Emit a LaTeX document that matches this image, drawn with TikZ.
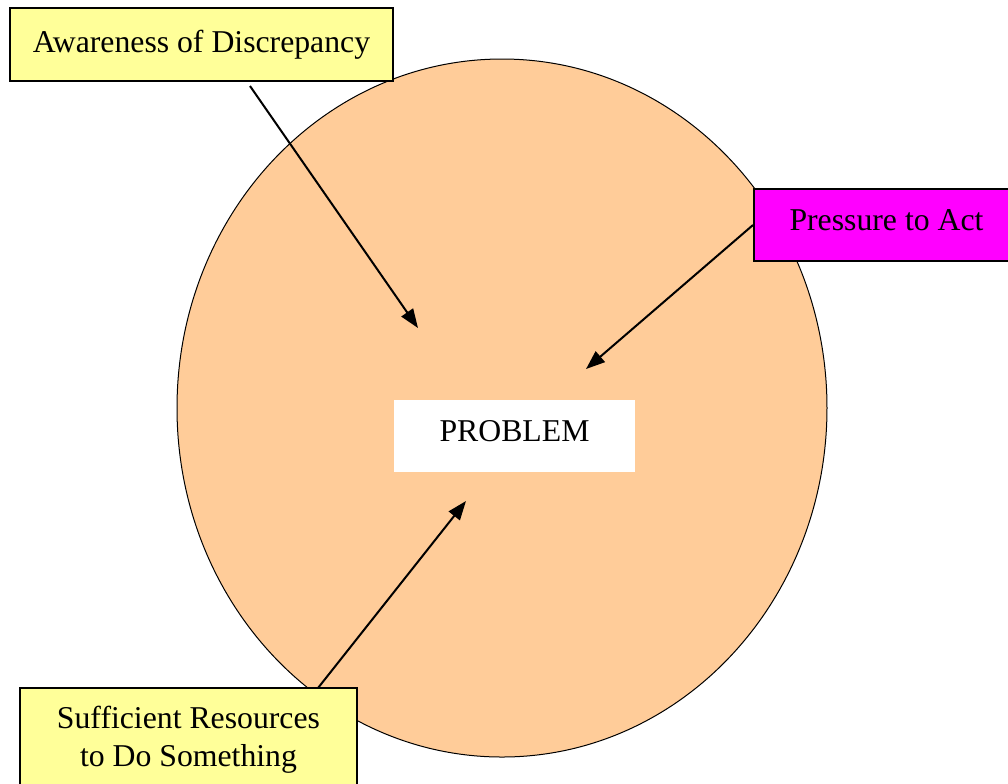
\documentclass[tikz,border=0pt]{standalone}
\usepackage{fontspec}
\setmainfont{Liberation Serif}
\usepackage{xcolor}
\usetikzlibrary{arrows.meta,positioning}

\definecolor{peach}{HTML}{FFCC99}
\definecolor{paleyellow}{HTML}{FFFF99}
\definecolor{hotmagenta}{HTML}{FF00FF}

\tikzset{
  factor/.style={draw=black, line width=0.8pt, inner sep=0pt, align=center},
  arr/.style={line width=0.8pt, -{Triangle[length=7.6pt, width=5.6pt]}}
}

\begin{document}
\begin{tikzpicture}[x=0.4pt, y=-0.4pt, font=\fontsize{12.7pt}{15.2pt}\selectfont]
      \clip (0,0) rectangle (1008,783);
      % the problem area, drawn first so boxes sit on top
      \draw[fill=peach, line width=0.4pt] (502,408) ellipse [x radius=325, y radius=349];
      \node[fill=white, inner sep=0pt, minimum width=96.4pt, text height=16.5pt, text depth=12.3pt] (problem) at (514.5,436) {PROBLEM};
      \node[factor, fill=paleyellow, minimum width=153.2pt, minimum height=29.2pt] (aware) at (201.5,44.5) {Awareness of Discrepancy};
      \node[factor, fill=hotmagenta, minimum width=106pt, text height=16.4pt, text depth=12.4pt] (pressure) at (886.5,225) {Pressure to Act};
      \node[factor, fill=paleyellow, minimum width=134.8pt, text height=31.4pt, text depth=8.6pt] (resources) at (188.5,738) {Sufficient Resources\\to Do Something};
      % arrow ends
      \coordinate (awareTail) at (250,86);
      \coordinate (awareTip) at (418,328);
      \coordinate (pressureTip) at (586,369);
      \coordinate (resourcesTail) at (318,688);
      \coordinate (resourcesTip) at (466,501);
      \draw[arr] (awareTail) -- (awareTip);
      \draw[arr] (pressure.west) -- (pressureTip);
      \draw[arr] (resourcesTail) -- (resourcesTip);
    \end{tikzpicture}
\end{document}
